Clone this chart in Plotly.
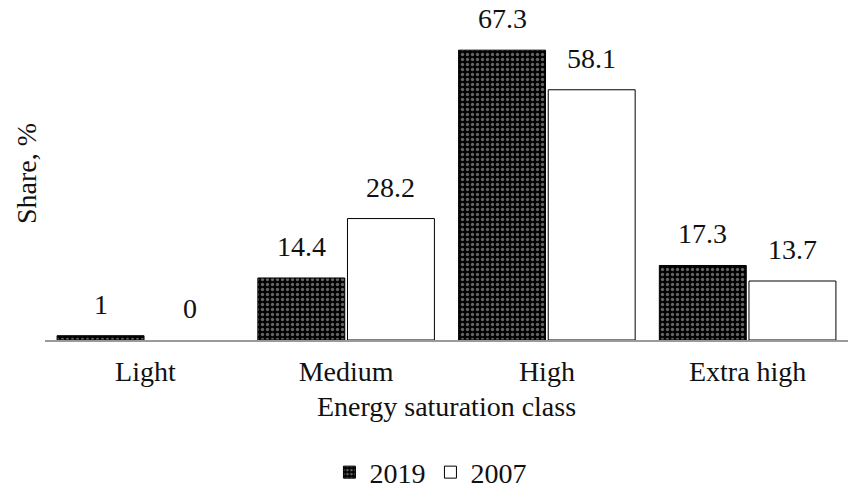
import plotly.graph_objects as go

categories = ["Light", "Medium", "High", "Extra high"]
share_2019 = [1, 14.4, 67.3, 17.3]
share_2007 = [0, 28.2, 58.1, 13.7]

FONT = "Liberation Serif, Times New Roman, serif"
FS = 28
INK = "#111111"
BARGAP = 0.107

dotted = dict(shape=".", bgcolor="black", fgcolor="#c8c8c8",
              size=5, solidity=0.35, fillmode="overlay")

fig = go.Figure()
fig.add_trace(go.Bar(
    name="2019", x=categories, y=share_2019, offsetgroup="y2019",
    marker=dict(color="black", line=dict(color="black", width=1), pattern=dotted),
))
# 2007 bars: the zero-height bar gets no outline, so the legend entry is drawn separately
fig.add_trace(go.Bar(
    name="2007", x=categories, y=share_2007, offsetgroup="y2007",
    marker=dict(color="white",
                line=dict(color="black", width=[0 if v == 0 else 1 for v in share_2007])),
    showlegend=False,
))
fig.add_trace(go.Bar(
    name="2007", x=[categories[0]], y=[None], offsetgroup="y2007",
    marker=dict(color="white", line=dict(color="black", width=1)),
    showlegend=True, hoverinfo="skip",
))

# value labels above each bar, centred on the bar's slot within its category
slot = (1 - BARGAP) / 2
annotations = []
for series, sign in ((share_2019, -1), (share_2007, 1)):
    for i, v in enumerate(series):
        annotations.append(dict(
            text=f"{v:g}", xref="x", yref="y", x=i + sign * slot / 2, y=v,
            xanchor="center", yanchor="bottom", yshift=14, showarrow=False,
            font=dict(size=FS, family=FONT, color=INK),
        ))
annotations.append(dict(text="Share, %", xref="paper", yref="paper",
                        x=-0.0237, y=0.517, textangle=-90, showarrow=False,
                        xanchor="center", yanchor="middle", font=dict(size=FS)))

fig.update_layout(
    width=852, height=493,
    margin=dict(l=45, r=4, t=17, b=153, autoexpand=False),
    paper_bgcolor="white", plot_bgcolor="white",
    font=dict(family=FONT, size=FS, color=INK),
    barmode="group", bargap=BARGAP, bargroupgap=0.03,
    showlegend=True,
    legend=dict(orientation="h", x=0.48, xanchor="center", y=-0.41, yanchor="middle",
                font=dict(size=FS), itemwidth=30, traceorder="normal"),
    xaxis=dict(showline=True, linecolor="#9a9a9a", linewidth=1.5,
               ticks="", tickfont=dict(size=FS), ticklabelstandoff=6,
               title=dict(text="Energy saturation class", font=dict(size=FS), standoff=10)),
    yaxis=dict(range=[0, 75], showticklabels=False, showgrid=False, zeroline=False,
               showline=False),
    annotations=annotations,
)

fig.write_html("out.html")
